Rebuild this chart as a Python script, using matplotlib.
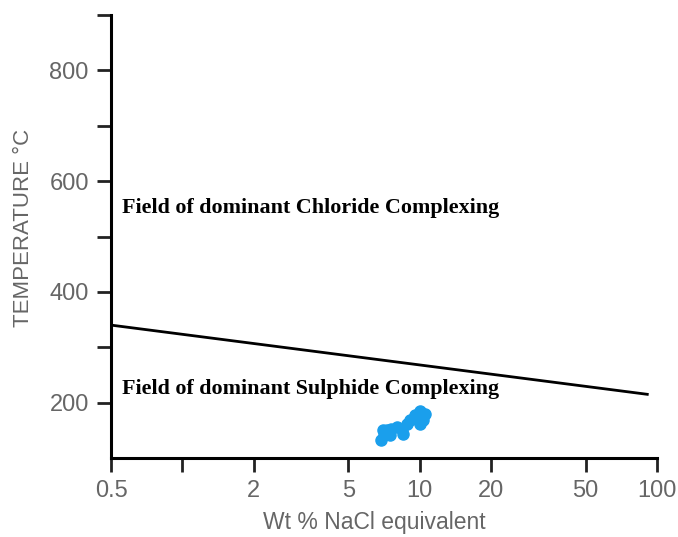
import numpy as np
import matplotlib
matplotlib.use('Agg')
import matplotlib.pyplot as plt

# boundary between chloride and sulphide complexing fields
boundary_salinity = [0.5, 91]
boundary_temp = [340, 215]

# fluid inclusion data (wt % NaCl eq., homogenisation temperature)
incl_salinity = [6.9, 7.1, 7.3, 7.6, 8.0, 8.4, 8.5, 8.8, 9.1, 9.55, 10.0, 10.5, 10.3, 10.0, 7.5, 7.0]
incl_temp = [133, 142, 151, 153, 156, 153, 144, 162, 169, 178, 184, 180, 169, 162, 142, 151]

x_ticks = [0.5, 1, 2, 5, 10, 20, 50, 100]
x_ticklabels = ['0.5', '', '2', '5', '10', '20', '50', '100']
y_ticks = [200, 300, 400, 500, 600, 700, 800, 900]
y_ticklabels = ['200', '', '400', '', '600', '', '800', '']

grey = '#666666'
plt.rcParams['font.family'] = ['Liberation Sans', 'DejaVu Sans']

fig = plt.figure(figsize=(6.78, 5.37), dpi=100)
ax = fig.add_axes([111 / 678, 1 - 458 / 537, 546 / 678, 443 / 537])

ax.plot(boundary_salinity, boundary_temp, color='black', lw=2)
ax.plot(incl_salinity, incl_temp, 'o', color='#1a9fec', ms=8, mec='#1a9fec')

ax.set_xscale('log')
ax.set_xlim(0.5, 100)
ax.set_ylim(100, 900)
ax.set_xticks(x_ticks)
ax.set_xticklabels(x_ticklabels)
ax.minorticks_off()
ax.set_yticks(y_ticks)
ax.set_yticklabels(y_ticklabels)

for side in ['top', 'right']:
    ax.spines[side].set_visible(False)
for side in ['left', 'bottom']:
    ax.spines[side].set_linewidth(2.2)
ax.tick_params(axis='both', length=10, width=2, color='#222222', labelsize=17, labelcolor=grey, pad=6)

ax.set_xlabel('Wt % NaCl equivalent', fontsize=16.5, color=grey, va='center')
ax.xaxis.set_label_coords(0.483, -0.145)
ax.set_ylabel('TEMPERATURE \u00b0C', fontsize=16, color=grey, va='center')
ax.yaxis.set_label_coords(-0.16, 0.52)

txt = dict(family=['Liberation Serif', 'DejaVu Serif'], fontweight='bold', fontsize=15.8, color='black', va='center')
ax.text(0.556, 551, 'Field of dominant Chloride Complexing', **txt)
ax.text(0.556, 225, 'Field of dominant Sulphide Complexing', **txt)

fig.savefig('out.png', dpi=100)
